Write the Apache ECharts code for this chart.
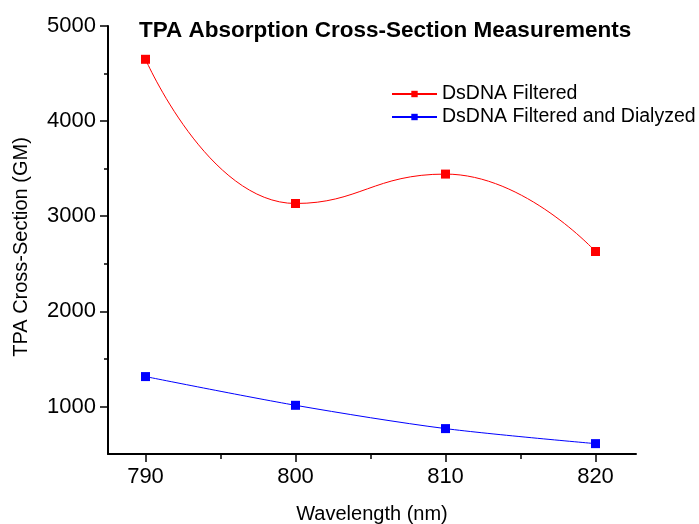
<!DOCTYPE html>
<html><head><meta charset="utf-8">
<script src="https://cdn.jsdelivr.net/npm/echarts@6/dist/echarts.min.js"></script>
<style>html,body{margin:0;padding:0;background:#fff}#c{width:699px;height:524px}</style>
</head><body><div id="c"></div>
<script>
const wavelengths = [790, 800, 810, 820];
const filtered = [4650, 3134, 3443, 2629];
const dialyzed = [1314, 1012, 767, 609];
const xMajorTicks = [790, 800, 810, 820];
const xMinorTicks = [795, 805, 815];
const yMajorTicks = [1000, 2000, 3000, 4000, 5000];
const yMinorTicks = [1500, 2500, 3500, 4500];
const seriesNames = ['DsDNA Filtered', 'DsDNA Filtered and Dialyzed'];

const FONT = 'Liberation Sans, Arial, sans-serif';
const chart = echarts.init(document.getElementById('c'), null, {renderer: 'canvas'});
const grid = {left: 108, top: 26, right: 63, bottom: 70, containLabel: false, outerBoundsMode: 'none'};
const xBase = {type: 'value', min: 787.5, max: 822.7, splitLine: {show: false}};
const yBase = {type: 'value', min: 500, max: 5000, splitLine: {show: false}};
function tickAxis(base, pos, vals, len) {
  return Object.assign({}, base, {
    position: pos,
    axisLine: {show: false},
    axisTick: {show: true, length: len, customValues: vals, lineStyle: {color: '#000', width: 1.5}},
    axisLabel: {show: false}
  });
}
chart.setOption({
  animation: false,
  backgroundColor: '#fff',
  title: {
    text: 'TPA Absorption Cross-Section Measurements',
    left: 134, top: 14,
    textStyle: {fontFamily: FONT, fontSize: 22.5, fontWeight: 'bold', color: '#000'}
  },
  legend: {
    orient: 'vertical', left: 386, top: 79, itemGap: 3,
    itemWidth: 45, itemHeight: 8,
    textStyle: {fontFamily: FONT, fontSize: 19.5, lineHeight: 20, color: '#000'},
    data: seriesNames
  },
  grid: grid,
  xAxis: [
    Object.assign({}, xBase, {
      name: 'Wavelength (nm)', nameLocation: 'middle', nameGap: 50,
      nameTextStyle: {fontFamily: FONT, fontSize: 20, color: '#000'},
      axisLine: {show: true, lineStyle: {color: '#000', width: 2}},
      axisTick: {show: false},
      axisLabel: {customValues: xMajorTicks, fontFamily: FONT, fontSize: 22, color: '#000', margin: 12,
                  formatter: v => String(v)}
    }),
    tickAxis(xBase, 'bottom', xMajorTicks, 8),
    tickAxis(xBase, 'bottom', xMinorTicks, 5)
  ],
  yAxis: [
    Object.assign({}, yBase, {
      name: 'TPA Cross-Section (GM)', nameLocation: 'middle', nameGap: 77,
      nameTextStyle: {fontFamily: FONT, fontSize: 20, color: '#000', padding: [0, 14, 0, 0]},
      axisLine: {show: true, lineStyle: {color: '#000', width: 2}},
      axisTick: {show: false},
      axisLabel: {customValues: yMajorTicks, fontFamily: FONT, fontSize: 22, color: '#000', margin: 12,
                  formatter: v => String(v)}
    }),
    tickAxis(yBase, 'left', yMajorTicks, 8),
    tickAxis(yBase, 'left', yMinorTicks, 4)
  ],
  series: [
    {
      name: seriesNames[0], type: 'line', smooth: 0.5,
      data: wavelengths.map((w, i) => [w, filtered[i]]),
      symbol: 'rect', symbolSize: 9, color: '#ff0000',
      lineStyle: {color: '#ff0000', width: 1}, itemStyle: {color: '#ff0000'}
    },
    {
      name: seriesNames[1], type: 'line', smooth: 0.3,
      data: wavelengths.map((w, i) => [w, dialyzed[i]]),
      symbol: 'rect', symbolSize: 9, color: '#0000ff',
      lineStyle: {color: '#0000ff', width: 1}, itemStyle: {color: '#0000ff'}
    }
  ]
});
</script></body></html>
